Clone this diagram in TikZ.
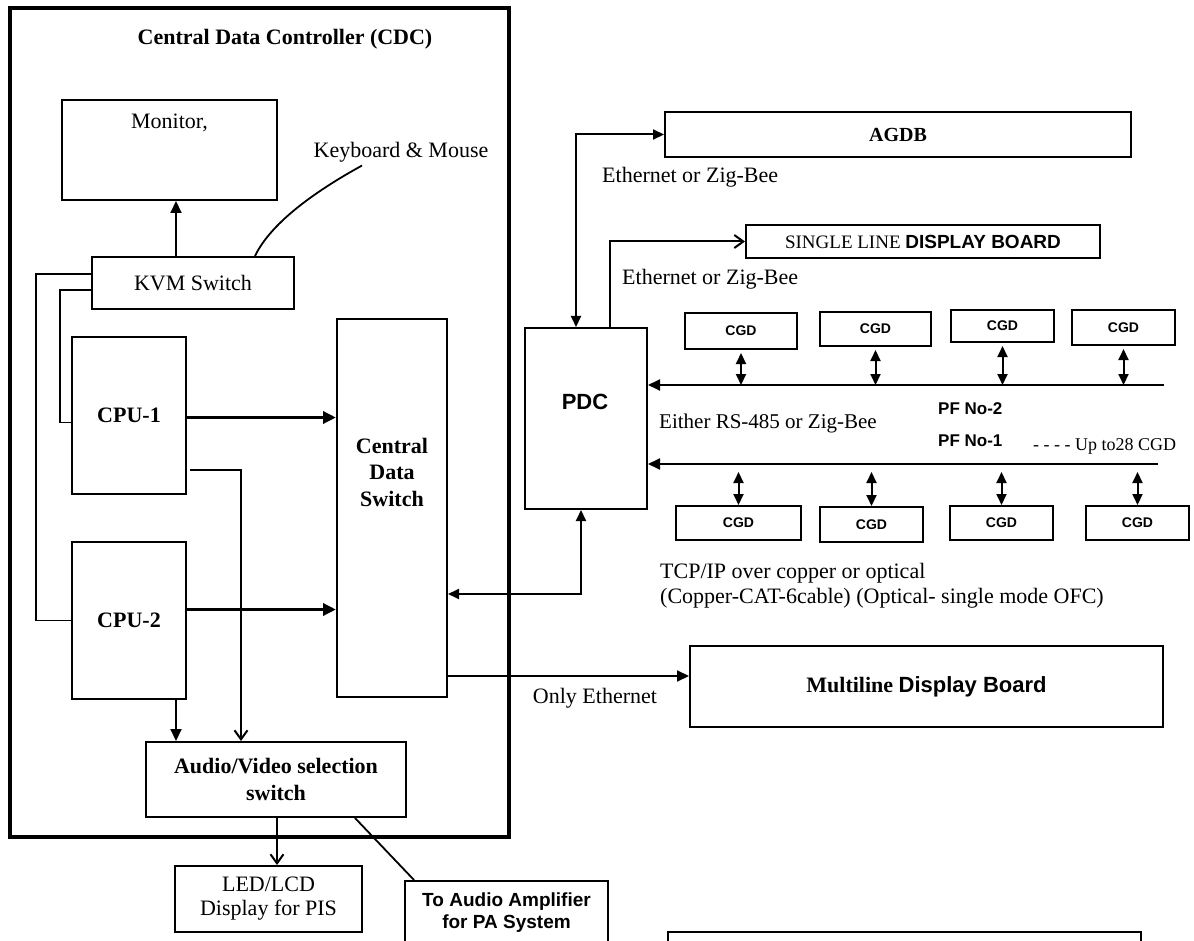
\documentclass[tikz,border=0pt]{standalone}
\usepackage{fontspec}
\setmainfont{Liberation Serif}
\setsansfont{Liberation Sans}
\usetikzlibrary{arrows.meta,positioning,calc}

\begin{document}
\begin{tikzpicture}[x=1pt,y=-1pt,
  font=\fontsize{22}{25}\selectfont,
  box/.style={draw,line width=2pt,inner sep=2pt,align=center},
  bf/.style={font=\fontsize{22}{26.5}\selectfont\bfseries},
  sfb/.style={font=\fontsize{19}{22}\selectfont\sffamily\bfseries},
  cgd/.style={draw,line width=2pt,inner sep=0pt,
              font=\fontsize{14}{16}\selectfont\sffamily\bfseries},
  lbl/.style={anchor=west,inner sep=0pt},
  arr/.style={-{Triangle[length=12pt,width=11pt]},line width=2pt},
  darr/.style={{Triangle[length=11pt,width=10pt]}-{Triangle[length=11pt,width=10pt]},line width=2pt},
  oarr/.style={-{Straight Barb[length=9pt,width=13pt]},line width=2pt},
  fat/.style={-{Triangle[length=13pt,width=12pt]},line width=3.5pt},
  wire/.style={line width=1.8pt}
]
\useasboundingbox (0,0) rectangle (1194,941);
\clip (0,0) rectangle (1194,941);

% ---- Central Data Controller frame
\node[draw,line width=4pt,minimum width=499pt,minimum height=829pt] (cdc) at (259.5,422.5) {};
\node[bf] (ttl) at (285,39) {Central Data Controller (CDC)};

\node[box,minimum width=215pt,minimum height=100pt] (mon) at (169.5,150) {};
\node[below=15pt of mon.north,inner sep=0pt] (montxt) {Monitor,};
\node (kbm) at (401,152) {Keyboard \& Mouse};
\node[box,minimum width=202pt,minimum height=52pt] (kvm) at (193,283) {KVM Switch};

\node[box,bf,minimum width=114pt,minimum height=157pt] (cpu1) at (129,415.5) {CPU-1};
\node[box,bf,minimum width=114pt,minimum height=157pt] (cpu2) at (129,620.5) {CPU-2};

\node[box,minimum width=110pt,minimum height=378pt] (cds) at (392,508) {};
\node[bf,align=center] (cdstxt) at (392,472) {Central\\Data\\Switch};

\node[box,bf,font=\fontsize{22}{27}\selectfont\bfseries,
      minimum width=260pt,minimum height=75pt] (av) at (276,779.5)
  {Audio/Video selection\\switch};

% ---- outputs below the frame
\node[box,font=\fontsize{22}{24}\selectfont,minimum width=187pt,minimum height=66pt]
  (led) at (268.5,899) {LED/LCD\\Display for PIS};
\node[box,sfb,font=\fontsize{19}{22}\selectfont\sffamily\bfseries,
      minimum width=203pt,minimum height=64pt] (amp) at (506.5,913)
  {To Audio Amplifier\\for PA System};
\node[box,minimum width=473pt,minimum height=60pt] (lowbox) at (904.5,962) {};

% ---- CDC wiring
\draw[arr] ([xshift=-17pt]kvm.north) -- ([xshift=-17pt]kvm.north |- mon.south);
\draw[wire] ([xshift=-39pt]kbm.south) .. controls +(-60,33) and +(13,-27) .. ([xshift=62pt]kvm.north);
\draw[wire] ([yshift=9pt]kvm.west) -- ++(-55,0) |- (cpu2.west);
\draw[wire] ([yshift=-7pt]kvm.west) -- ++(-31,0) |- ([yshift=-7pt]cpu1.west);
\draw[fat] ([yshift=-2pt]cpu1.east) -- ([yshift=-2pt]cpu1.east -| cds.west);
\draw[fat] ([yshift=11pt]cpu2.east) -- ([yshift=11pt]cpu2.east -| cds.west);
\draw[oarr] ([xshift=3pt,yshift=-54pt]cpu1.east) -| ([xshift=-35pt]av.north);
\draw[arr] ([xshift=47pt]cpu2.south) -- ([xshift=47pt]cpu2.south |- av.north);
\draw[oarr] ([xshift=1pt]av.south) -- ([xshift=1pt]av.south |- led.north);
\draw[wire] ([xshift=79pt]av.south) -- ([xshift=10pt]amp.north west);

% ---- PDC side
\node[box,minimum width=122pt,minimum height=181pt] (pdc) at (586,418.5) {};
\node[font=\fontsize{22}{25}\selectfont\sffamily\bfseries] (pdctxt) at (585,402) {PDC};

\node[box,font=\fontsize{20}{24}\selectfont\bfseries,minimum width=466pt,minimum height=45pt]
  (agdb) at (898,134.5) {AGDB};
\node[box,font=\fontsize{19}{22}\selectfont,minimum width=354pt,minimum height=33pt]
  (sldb) at (923,241.5) {SINGLE LINE \textsf{\bfseries DISPLAY BOARD}};
\node[box,minimum width=473pt,minimum height=81pt] (mdb) at (926.5,686.5)
  {\textbf{Multiline} {\sffamily\bfseries Display Board}};

\draw[darr] ([xshift=-10pt]pdc.north) |- (agdb.west);
\draw[oarr] ([xshift=24pt]pdc.north) |- (sldb.west);
\draw[darr] ([yshift=-86pt]cds.east) -| ([xshift=-5pt]pdc.south);
\draw[arr] ([yshift=-168pt]cds.east) -- ([yshift=-168pt]cds.east -| mdb.west);

\node[lbl] (eth1) at (602,177) {Ethernet or Zig-Bee};
\node[lbl] (eth2) at (622,279) {Ethernet or Zig-Bee};
\node (only) at (595,698) {Only Ethernet};

% ---- platform buses with CGDs
\coordinate (bus2) at (1164,385);
\coordinate (bus1) at (1158,464);
\draw[arr] (bus2) -- (bus2 -| pdc.east);
\draw[arr] (bus1) -- (bus1 -| pdc.east);

\foreach \n/\x/\y/\w/\h in {t1/741/331/112/36,t2/875.5/329/111/34,
                            t3/1002.5/326/103/32,t4/1123.5/327.5/103/35}{
  \node[cgd,minimum width=\w pt,minimum height=\h pt] (\n) at (\x,\y) {CGD};
  \draw[darr] ([yshift=-3pt]\n.south) -- (\n.south |- bus2);
}
\foreach \n/\x/\y/\w/\h in {b1/738.5/523/125/34,b2/871.5/524.5/103/35,
                            b3/1001.5/523/103/34,b4/1137.5/523/103/34}{
  \node[cgd,minimum width=\w pt,minimum height=\h pt] (\n) at (\x,\y) {CGD};
  \draw[darr] ([yshift=-8pt]\n.north |- bus1) -- (\n.north);
}

\node[lbl,font=\fontsize{21}{24}\selectfont] (rs) at (659,423) {Either RS-485 or Zig-Bee};
\node[lbl,font=\fontsize{17}{20}\selectfont\sffamily\bfseries] (pf2) at (938,409) {PF No-2};
\node[lbl,font=\fontsize{17}{20}\selectfont\sffamily\bfseries] (pf1) at (938,441) {PF No-1};
\node[lbl,font=\fontsize{18}{20}\selectfont] (upto) at (1033,446) {- - - - Up to28 CGD};
\node[lbl,align=left] (tcp) at (660,586)
  {TCP/IP over copper or optical\\(Copper-CAT-6cable) (Optical- single mode OFC)};
\end{tikzpicture}
\end{document}
